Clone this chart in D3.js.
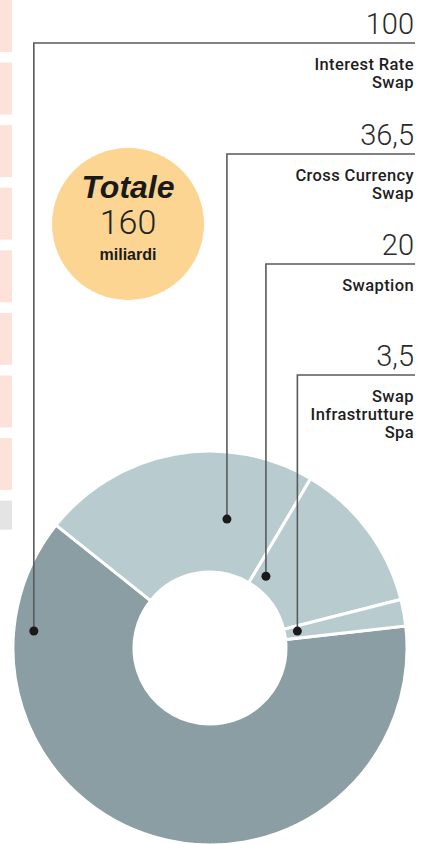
<!DOCTYPE html>
<html>
<head>
<meta charset="utf-8">
<script src="https://cdn.jsdelivr.net/npm/d3@7"></script>
<style>
  html, body { margin: 0; padding: 0; background: #fff; }
  svg { display: block; }
</style>
</head>
<body>
<svg id="chart" width="426" height="844"></svg>
<script>
// data
var categories = ['Interest Rate Swap', 'Cross Currency Swap', 'Swaption', 'Swap Infrastrutture Spa'];
var values = [100, 36.5, 20, 3.5];
var valueLabels = ['100', '36,5', '20', '3,5'];
var labelLines = [['Interest Rate', 'Swap'], ['Cross Currency', 'Swap'], ['Swaption'], ['Swap', 'Infrastrutture', 'Spa']];
var totalTitle = 'Totale';
var totalValue = '160';
var totalUnit = 'miliardi';
var sliceColors = ['#8a9ea4', '#b8ccd0', '#b8ccd0', '#b8ccd0'];

var svg = d3.select('#chart');

// cropped bars of the neighbouring chart on the left edge
var stripRows = d3.range(9);
var stripY = d3.scaleBand().domain(stripRows).range([0, 9 * 61.4]).paddingInner(0.17);
svg.selectAll('.strip')
    .data(stripRows)
    .enter()
    .append('rect')
    .attr('class', 'strip')
    .attr('x', 0)
    .attr('y', function (d) { return stripY(d); })
    .attr('width', 12)
    .attr('height', function (d) { return d == 8 ? 29 : stripY.bandwidth(); })
    .style('fill', function (d) { return d == 8 ? '#e4e4e4' : '#fde2da'; });

// donut
var cx = 210, cy = 648, rIn = 76, rOut = 197;
var deg = Math.PI / 180;
var pie = d3.pie().sort(null).value(function (d) { return d; })
    .startAngle(83.6 * deg).endAngle((83.6 + 360) * deg);
var arcs = pie(values);
var arc = d3.arc().innerRadius(rIn).outerRadius(rOut);

var donut = svg.append('g').attr('transform', 'translate(' + [cx, cy] + ')');
donut.selectAll('path')
    .data(arcs)
    .enter()
    .append('path')
    .attr('d', arc)
    .style('fill', function (d, i) { return sliceColors[i]; })
    .style('stroke', '#fff')
    .style('stroke-width', 3);

// total bubble
var bubble = svg.append('g').attr('transform', 'translate(' + [128, 224] + ')');
bubble.append('circle').attr('r', 76).style('fill', '#fcd593');
bubble.append('text').text(totalTitle)
    .attr('y', -26)
    .style('font-family', '"Liberation Sans", Arial, sans-serif')
    .style('font-weight', 'bold').style('font-style', 'italic')
    .style('font-size', '32px').style('fill', '#1a1a1a')
    .style('text-anchor', 'middle');
bubble.append('text').text(totalValue)
    .attr('y', 10)
    .style('font-family', 'Roboto, "Liberation Sans", sans-serif')
    .style('font-weight', 300)
    .style('font-size', '34px').style('fill', '#222')
    .style('text-anchor', 'middle');
bubble.append('text').text(totalUnit)
    .attr('y', 36)
    .style('font-family', '"Liberation Sans", Arial, sans-serif')
    .style('font-weight', 'bold')
    .style('font-size', '16px').style('fill', '#1a1a1a')
    .style('text-anchor', 'middle');

// callouts: where the dot sits inside each slice, and the height of the label rule
var dotPos = [{t: 0.853, r: 177}, {t: 0.717, r: 130}, {t: 0.16, r: 91}, {t: 0.42, r: 89}];
var ruleY = [43, 154, 264, 375];
var rightX = 415;

arcs.forEach(function (a, i) {
    var ang = a.startAngle + (a.endAngle - a.startAngle) * dotPos[i].t;
    var px = cx + dotPos[i].r * Math.sin(ang);
    var py = cy - dotPos[i].r * Math.cos(ang);
    var g = svg.append('g').attr('class', 'callout');

    g.append('path')
        .attr('d', d3.line()([[px, py], [px, ruleY[i]], [rightX, ruleY[i]]]))
        .style('fill', 'none')
        .style('stroke', '#5a5a5a')
        .style('stroke-width', 1.6);
    g.append('circle')
        .attr('cx', px).attr('cy', py).attr('r', 4.5)
        .style('fill', '#1a1a1a');

    g.append('text')
        .attr('transform', 'translate(' + [rightX - 1, ruleY[i] - 9] + ')')
        .text(valueLabels[i])
        .style('font-family', 'Roboto, "Liberation Sans", sans-serif')
        .style('font-weight', 300)
        .style('font-size', '29px')
        .style('fill', '#2a2a2a')
        .style('text-anchor', 'end');

    labelLines[i].forEach(function (line, j) {
        g.append('text')
            .attr('transform', 'translate(' + [rightX - 1, ruleY[i] + 27 + j * 18] + ')')
            .text(line)
            .style('font-family', 'Roboto, "Liberation Sans", sans-serif')
            .style('font-weight', 500)
            .style('font-size', '16.5px')
            .style('letter-spacing', '0.4px')
            .style('fill', '#1e1e1e')
            .style('text-anchor', 'end');
    });
});
</script>
</body>
</html>
